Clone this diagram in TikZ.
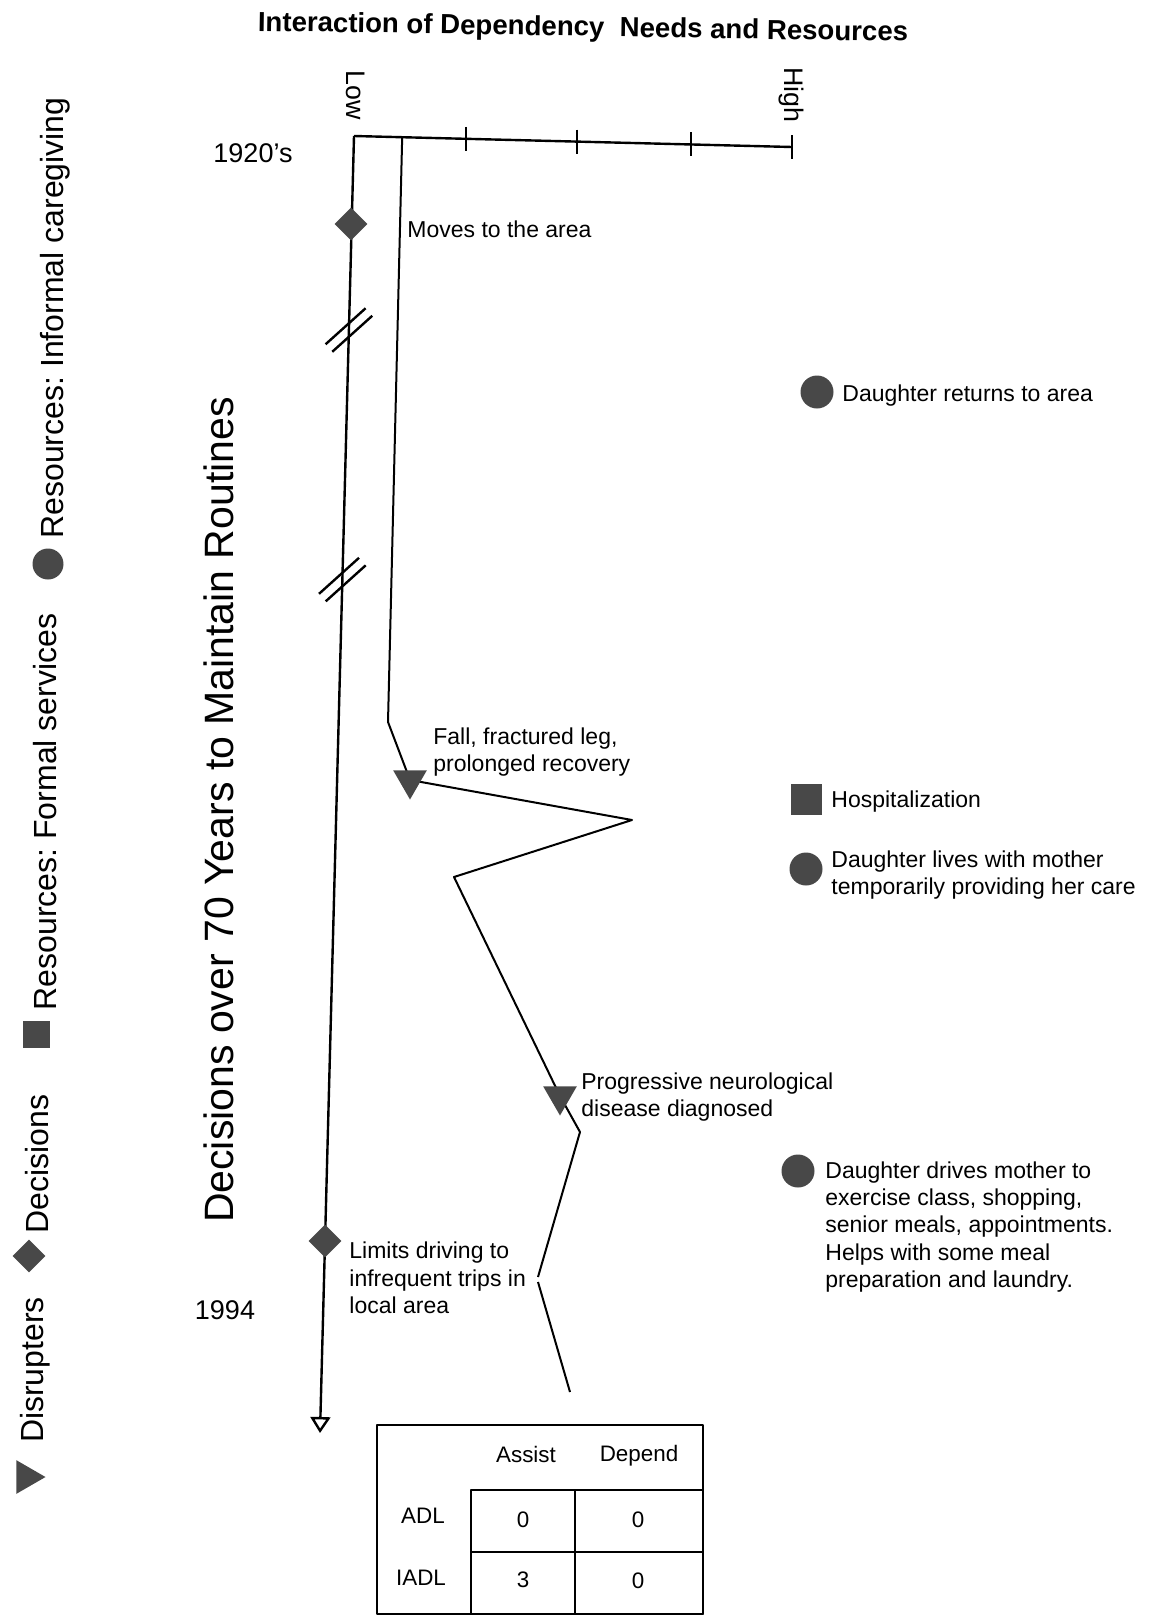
\documentclass[tikz,border=0pt]{standalone}
\usepackage{fontspec}
\setmainfont{Liberation Sans}
\usetikzlibrary{shapes.geometric, arrows.meta, positioning, calc}
\frenchspacing
\definecolor{markgray}{RGB}{72,72,72}
\tikzset{
  decision/.style={diamond, fill=markgray, inner sep=0pt, minimum width=16.5pt, minimum height=16.5pt},
  disrupter/.style={regular polygon, regular polygon sides=3, shape border rotate=180, fill=markgray, inner sep=0pt, minimum size=19.5pt},
  formal/.style={rectangle, fill=markgray, inner sep=0pt, minimum size=15.5pt},
  informal/.style={circle, fill=markgray, inner sep=0pt, minimum size=16.5pt},
  lbl/.style={font=\fontsize{11.5}{13.7}\selectfont, align=left, anchor=west, inner sep=0pt},
  cell/.style={font=\fontsize{11.2}{13}\selectfont, inner sep=0pt},
  legend/.style={font=\fontsize{16}{19}\selectfont, rotate=90, inner sep=0pt},
}

\begin{document}
\begin{tikzpicture}[x=0.5pt, y=-0.5pt, line join=round]
  \useasboundingbox (0,0) rectangle (1152,1617);
  % title
  \node[font=\bfseries\fontsize{13.8}{16}\selectfont, rotate=-0.9] (title) at (583,29) {Interaction of Dependency\ \ Needs and Resources};
  % needs axis
  \coordinate (origin) at (354,136);
  \coordinate (hi) at (792,147);
  \draw[line width=1.2pt] (origin) -- (hi);
  \foreach \t in {0.256,0.509,0.769,1}
    \draw[line width=1pt] ($(origin)!\t!(hi)$) +(0,-12) -- +(0,12);
  \node[rotate=-90, font=\fontsize{13.4}{16}\selectfont, inner sep=0pt] (low) at (356,95) {Low};
  \node[rotate=-90, font=\fontsize{13.4}{16}\selectfont, inner sep=0pt] (high) at (791,95) {High};
  % time axis
  \coordinate (tend) at (320,1433);
  \draw[line width=1.2pt, -{Triangle[open, width=10pt, length=8pt]}] (origin) -- (tend);
  % breaks
  \foreach \p in {0.1496,0.342} {
    \coordinate (br) at ($(origin)!\p!(tend)$);
    \foreach \s in {-5,5}
      \draw[line width=1.2pt] ($(br)+(-20+0.67*\s,18+0.75*\s)$) -- ++(40,-36);
  }
  \node[decision] (moves) at (351,224) {};
  \node[decision] (limits) at (325,1241) {};
  \node[font=\fontsize{13.5}{16}\selectfont, inner sep=0pt] (y1920) at (253,153) {1920's};
  \node[font=\fontsize{13.5}{16}\selectfont, inner sep=0pt] (y1994) at (225,1310) {1994};
  \node[rotate=90, font=\fontsize{20.5}{24}\selectfont, inner sep=0pt] (decide) at (219,810) {Decisions over 70 Years to Maintain Routines};
  % needs line
  \coordinate (n0) at ($(origin)!0.11!(hi)$);
  \coordinate (n1) at (388,722);
  \coordinate (fallpt) at (410,780);
  \coordinate (n3) at (632,820);
  \coordinate (n4) at (454,877);
  \coordinate (neuropt) at (560,1096);
  \coordinate (n6) at (580,1132);
  \coordinate (n7) at (538,1277);
  \coordinate (n8) at (538,1282);
  \coordinate (n9) at (570,1392);
  \draw[line width=1pt] (n0) -- (n1) -- (fallpt) -- (n3) -- (n4) -- (neuropt) -- (n6) -- (n7);
  \draw[line width=1pt] (n8) -- (n9);
  \node[disrupter] (fall) at (fallpt) {};
  \node[disrupter] (neuro) at (neuropt) {};
  % event labels
  \node[lbl] (movestxt) at (407,229) {Moves to the area};
  \node[lbl] (falltxt) at (433,752) {Fall, fractured leg,\\prolonged recovery};
  \node[lbl] (neurotxt) at (581,1097) {Progressive neurological\\disease diagnosed};
  \node[lbl] (limitstxt) at (349,1278) {Limits driving to\\infrequent trips in\\local area};
  % resources
  \node[informal] (returns) at (817,392) {};
  \node[lbl] (returnstxt) at (842,396) {Daughter returns to area};
  \node[formal] (hosp) at (806,799) {};
  \node[lbl] (hosptxt) at (831,802) {Hospitalization};
  \node[informal] (lives) at (806,869) {};
  \node[lbl] (livestxt) at (831,875) {Daughter lives with mother\\temporarily providing her care};
  \node[informal] (drives) at (798,1171) {};
  \node[lbl] (drivestxt) at (825,1227) {Daughter drives mother to\\exercise class, shopping,\\senior meals, appointments.\\Helps with some meal\\preparation and laundry.};
  % ADL table
  \draw[line width=1pt] (377,1425) rectangle (703,1614);
  \draw[line width=1pt] (471,1490) rectangle (703,1614);
  \draw[line width=1pt] (575,1490) -- (575,1614);
  \draw[line width=1pt] (471,1552) -- (703,1552);
  \node[cell] (assist) at (526,1454) {Assist};
  \node[cell] (depend) at (639,1456) {Depend};
  \node[cell] (adl) at (423,1516) {ADL};
  \node[cell] (iadl) at (421,1578) {IADL};
  \node[cell] (adlA) at (523,1520) {0};
  \node[cell] (adlD) at (638,1520) {0};
  \node[cell] (iadlA) at (523,1580) {3};
  \node[cell] (iadlD) at (638,1581) {0};
  % legend
  \node[disrupter, shape border rotate=-90] (lgdis) at (26,1477) {};
  \node[legend] (lgdistxt) at (35,1370) {Disrupters};
  \node[decision] (lgdec) at (29,1256) {};
  \node[legend] (lgdectxt) at (37,1164) {Decisions};
  \node[formal, minimum size=13.5pt] (lgfor) at (36,1034) {};
  \node[legend] (lgfortxt) at (45,812) {Resources: Formal services};
  \node[informal, minimum size=15.5pt] (lginf) at (48,564) {};
  \node[legend] (lginftxt) at (55,318) {Resources: Informal caregiving};
\end{tikzpicture}
\end{document}
